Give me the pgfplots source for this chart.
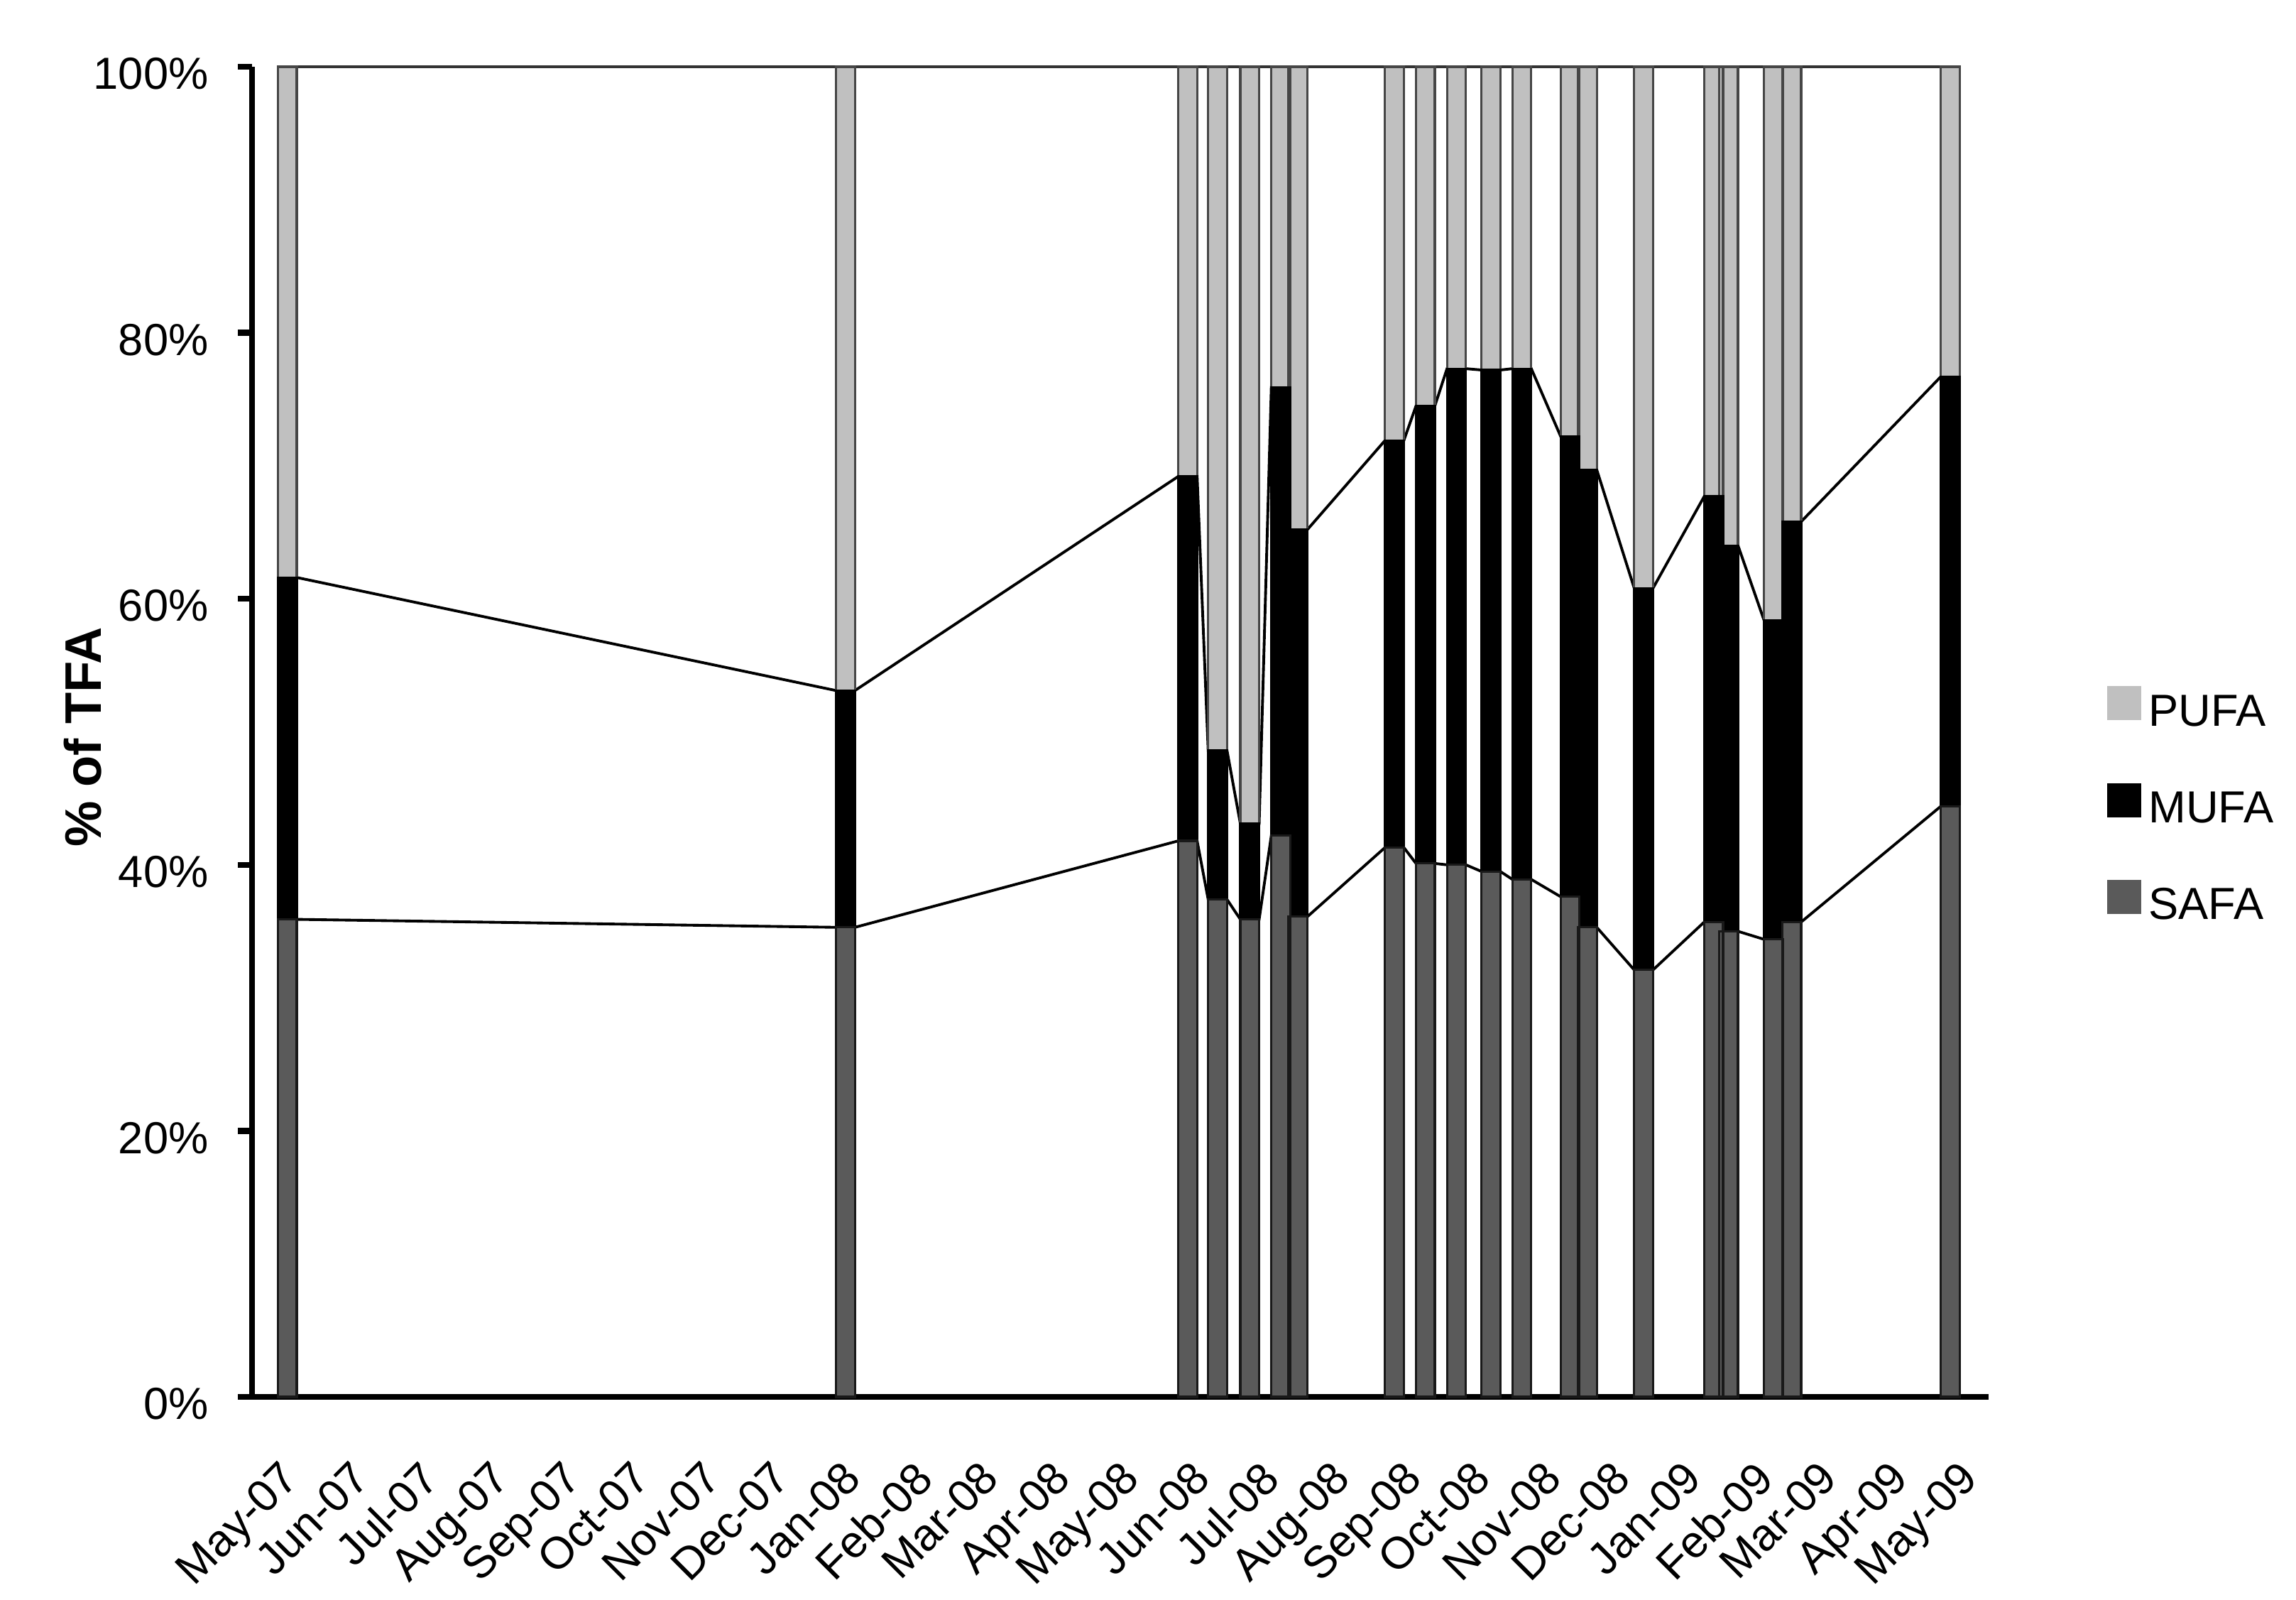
\documentclass[border=0pt]{standalone}
\usepackage{pgfplots}
\pgfplotsset{compat=1.18}
\usepackage{pgfplotstable}
\usepackage{fontspec}
\setmainfont{Liberation Sans}
\definecolor{pufacol}{RGB}{192,192,192}
\definecolor{safacol}{RGB}{90,90,90}
\definecolor{pufaedge}{RGB}{70,70,70}

% day = days since 1 May 2007
\pgfplotstableread{
d safa mufa pufa
4 35.9 25.7 38.4
247 35.3 17.8 46.9
396 41.8 27.4 30.8
409 37.4 11.2 51.4
423 35.9 7.2 56.9
436.5 42.2 33.7 24.1
444 36.1 29.1 34.8
486 41.3 30.6 28.1
499.5 40.1 34.4 25.5
513 40.0 37.3 22.7
528 39.5 37.7 22.8
541.5 38.9 38.4 22.7
562.5 37.6 34.6 27.8
570 35.3 34.4 30.3
594.5 32.1 28.7 39.2
625 35.7 32.0 32.3
631.5 35.0 29.0 36.0
651 34.4 24.0 41.6
659 35.7 30.1 34.2
728 44.4 32.3 23.3
}\bars

% bar edges (s = -1 left edge, +1 right edge) for the series lines
\pgfplotstableread{
d s safa top
4 -1 35.9 61.6
4 1 35.9 61.6
247 -1 35.3 53.1
247 1 35.3 53.1
396 -1 41.8 69.2
396 1 41.8 69.2
409 -1 37.4 48.6
409 1 37.4 48.6
423 -1 35.9 43.1
423 1 35.9 43.1
436.5 -1 42.2 75.9
436.5 1 42.2 75.9
444 -1 36.1 65.2
444 1 36.1 65.2
486 -1 41.3 71.9
486 1 41.3 71.9
499.5 -1 40.1 74.5
499.5 1 40.1 74.5
513 -1 40.0 77.3
513 1 40.0 77.3
528 -1 39.5 77.2
528 1 39.5 77.2
541.5 -1 38.9 77.3
541.5 1 38.9 77.3
562.5 -1 37.6 72.2
562.5 1 37.6 72.2
570 -1 35.3 69.7
570 1 35.3 69.7
594.5 -1 32.1 60.8
594.5 1 32.1 60.8
625 -1 35.7 67.7
625 1 35.7 67.7
631.5 -1 35.0 64.0
631.5 1 35.0 64.0
651 -1 34.4 58.4
651 1 34.4 58.4
659 -1 35.7 65.8
659 1 35.7 65.8
728 -1 44.4 76.7
728 1 44.4 76.7
}\edges

\begin{document}
\begin{tikzpicture}
\pgfplotsset{common/.style={at={(0,0)}, anchor=south west, scale only axis,
  width=122.3mm, height=93.65mm, xmin=-11.4, xmax=744.7, ymin=0, ymax=100, clip=false}}
\begin{axis}[common, hide axis]
\addplot[black, line width=0.55pt] table[x expr=\thisrow{d}+4.1*\thisrow{s}, y=safa] {\edges};
\addplot[black, line width=0.55pt] table[x expr=\thisrow{d}+4.1*\thisrow{s}, y=top] {\edges};
\addplot[black!80, line width=0.55pt] table[x expr=\thisrow{d}+4.1*\thisrow{s}, y expr=100] {\edges};
\end{axis}
\begin{axis}[common,
  ybar stacked, bar width=8.2,
  axis x line=bottom, axis y line=left,
  axis line style={-, line width=1.2pt, black},
  /pgf/number format/assume math mode=true,
  xtick={0,31,61,92,123,153,184,214,245,276,305,336,366,397,427,458,489,519,550,580,611,642,670,701,731},
  xticklabels={May-07,Jun-07,Jul-07,Aug-07,Sep-07,Oct-07,Nov-07,Dec-07,Jan-08,Feb-08,Mar-08,Apr-08,May-08,Jun-08,Jul-08,Aug-08,Sep-08,Oct-08,Nov-08,Dec-08,Jan-09,Feb-09,Mar-09,Apr-09,May-09},
  xtick style={draw=none},
  xticklabel style={yshift=-3.25mm, rotate=45, anchor=north east, inner sep=0pt, font=\fontsize{9}{10.8}\selectfont},
  ytick={0,20,40,60,80,100},
  yticklabels={0\%,20\%,40\%,60\%,80\%,100\%},
  ytick style={line width=1.2pt, black},
  tick align=outside, major tick length=1mm,
  yticklabel style={anchor=east, inner sep=0pt, xshift=-2.0mm, yshift=-0.5mm, font=\fontsize{9}{10.8}\selectfont},
  ylabel={\% of TFA},
  ylabel style={at={(axis description cs:-0.0973,0.496)}, anchor=center, font=\fontsize{10.3}{12}\selectfont\bfseries},
  reverse legend,
  legend image code/.code={\fill[#1, draw=none] (0mm,-0.44mm) rectangle (2.4mm,1.96mm);},
  legend style={draw=none, fill=none, at={(1.0679,0.4437)}, anchor=west, inner sep=0pt,
    row sep=3.5mm, font=\fontsize{9}{10.8}\selectfont, legend cell align=left,
    nodes={inner sep=0pt}, /tikz/every odd column/.append style={column sep=0.5mm}},
]
\addplot[fill=safacol, draw=black!90, line width=0.45pt] table[x=d, y=safa] {\bars};
\addlegendentry{SAFA}
\addplot[fill=black, draw=black, line width=0.45pt] table[x=d, y=mufa] {\bars};
\addlegendentry{MUFA}
\addplot[fill=pufacol, draw=pufaedge, line width=0.45pt] table[x=d, y=pufa] {\bars};
\addlegendentry{PUFA}
\end{axis}
\pgfresetboundingbox
\path (-17.75mm,-14.3mm) rectangle (143.95mm,98.35mm);
\end{tikzpicture}
\end{document}
